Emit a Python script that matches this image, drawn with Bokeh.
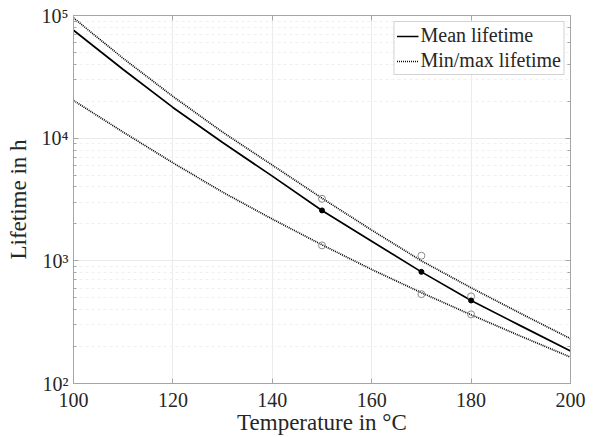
from bokeh.plotting import figure
from bokeh.models import LogAxis, LinearAxis, CustomJSTickFormatter, Legend, LegendItem
from bokeh.embed import file_html
from bokeh.resources import INLINE

# Data
temperature = [100, 110, 120, 130, 140, 150, 160, 170, 180, 190, 200]
mean_life = [75900, 36300, 17800, 9230, 4900, 2570, 1445, 813, 475, 295, 184]
max_life = [95500, 44700, 21900, 11200, 6030, 3240, 1780, 1000, 603, 372, 232]
min_life = [20300, 11200, 6300, 3630, 2190, 1350, 850, 550, 363, 243, 164]

meas_temp = [150, 170, 180]
meas_mean = [2576, 813, 475]
meas_max = [3206, 1101, 513]
meas_min = [1336, 535, 366]

x_ticks = [100, 120, 140, 160, 180, 200]

FONT = "Liberation Serif"
TXT = "#262626"
AX = "#a6a6a6"

p = figure(width=597, height=437, y_axis_type="log",
           x_range=(100, 200), y_range=(100, 1e5),
           output_backend="svg", toolbar_location=None,
           min_border_left=73, min_border_right=27,
           min_border_top=15, min_border_bottom=54,
           background_fill_color="white", border_fill_color="white")
p.outline_line_color = AX

sup_js = """
const sup = {"0":"\u2070","1":"\u00b9","2":"\u00b2","3":"\u00b3","4":"\u2074","5":"\u2075","6":"\u2076","7":"\u2077","8":"\u2078","9":"\u2079","-":"\u207b"};
const e = Math.round(Math.log10(tick));
return "10" + String(e).split("").map(c => sup[c]).join("");
"""

# Axes styling
xa = p.xaxis[0]
xa.ticker = x_ticks
xa.axis_label = "Temperature in °C"
ya = p.yaxis[0]
ya.axis_label = "Lifetime in h"
ya.formatter = CustomJSTickFormatter(code=sup_js)
for ax in (xa, ya):
    ax.axis_line_color = AX
    ax.major_tick_line_color = AX
    ax.minor_tick_line_color = AX
    ax.major_tick_in = 5
    ax.major_tick_out = 0
    ax.minor_tick_in = 3
    ax.minor_tick_out = 0
    ax.major_label_text_font = FONT
    ax.major_label_text_font_size = "20px"
    ax.major_label_text_color = TXT
    ax.axis_label_text_font = FONT
    ax.axis_label_text_font_size = "23px"
    ax.axis_label_text_font_style = "normal"
    ax.axis_label_text_color = TXT
xa.major_label_standoff = 9
xa.axis_label_standoff = 0
xa.minor_tick_line_color = None
ya.major_label_standoff = 5
ya.axis_label_standoff = 8

# Box-style right and top axes (ticks only)
ra = LogAxis(major_label_text_font_size="0px", axis_line_color=AX,
             major_tick_line_color=AX, minor_tick_line_color=AX,
             major_tick_in=5, major_tick_out=0, minor_tick_in=3, minor_tick_out=0,
             major_label_standoff=0)
ra.formatter = CustomJSTickFormatter(code="return '';")
p.add_layout(ra, "right")
ta = LinearAxis(major_label_text_font_size="0px", axis_line_color=AX,
                major_tick_line_color=AX, minor_tick_line_color=None,
                major_tick_in=5, major_tick_out=0, major_label_standoff=0)
ta.ticker = x_ticks
ta.formatter = CustomJSTickFormatter(code="return '';")
p.add_layout(ta, "above")

# Grids
p.xgrid.ticker = x_ticks
p.xgrid.grid_line_color = "#ebebeb"
p.ygrid.grid_line_color = "#ebebeb"
p.ygrid.minor_grid_line_color = "#f0f0f0"
p.ygrid.minor_grid_line_dash = "3 3"

# Curves
r_mean = p.line(temperature, mean_life, line_color="black", line_width=1.7)
r_max = p.line(temperature, max_life, line_color="black", line_width=1.7, line_dash="1 1")
r_min = p.line(temperature, min_life, line_color="black", line_width=1.7, line_dash="1 1")

# Measured points
p.scatter(meas_temp, meas_max, marker="circle", size=7, fill_color=None,
          line_color="#8c8c8c", line_width=1)
p.scatter(meas_temp, meas_min, marker="circle", size=7, fill_color=None,
          line_color="#8c8c8c", line_width=1)
p.scatter(meas_temp, meas_mean, marker="circle", size=5, fill_color="black",
          line_color="black")

legend = Legend(items=[LegendItem(label="Mean lifetime", renderers=[r_mean]),
                       LegendItem(label="Min/max lifetime", renderers=[r_max])],
                location="top_right")
legend.label_text_font = FONT
legend.label_text_font_size = "20px"
legend.label_text_color = TXT
legend.glyph_width = 22
legend.glyph_height = 22
legend.label_standoff = 2
legend.label_height = 22
legend.spacing = 2
legend.padding = 2
legend.margin = 6
legend.border_line_color = "#a6a6a6"
legend.background_fill_alpha = 1.0
p.add_layout(legend, "center")

open("out.html", "w").write(file_html(p, INLINE))
